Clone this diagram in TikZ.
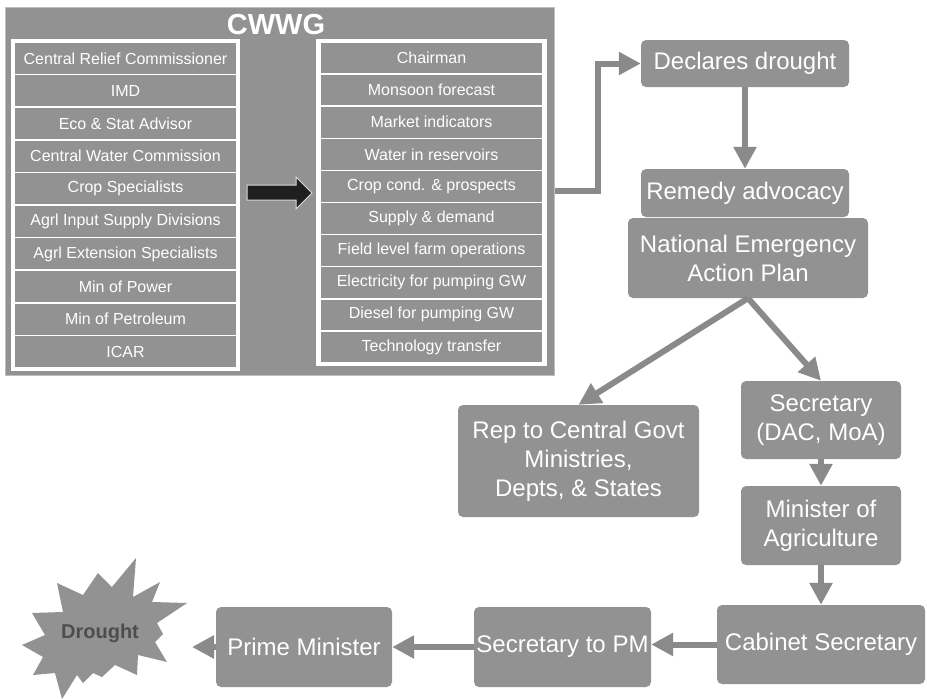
\documentclass[tikz,border=0pt]{standalone}
\usepackage{fontspec}
\setmainfont{Liberation Sans}
\usetikzlibrary{arrows.meta}
\definecolor{boxgray}{RGB}{146,146,146}
\definecolor{arrgray}{RGB}{138,138,138}
\definecolor{edgegray}{RGB}{190,190,190}
\definecolor{dtext}{RGB}{77,77,77}
\tikzset{
  flowbox/.style={rectangle, rounded corners=5pt, fill=boxgray, text=white, inner sep=0pt, align=center, font=\fontsize{24}{29}\selectfont},
  cell/.style={rectangle, fill=boxgray, draw=white, line width=1.5pt, text=white, inner sep=0pt, font=\fontsize{16}{19}\selectfont},
  conn/.style={draw=arrgray, line width=6pt, -{Triangle[length=22pt,width=22pt]}},
}
\begin{document}
\begin{tikzpicture}[x=1pt,y=-1pt]
\useasboundingbox (0,0) rectangle (927,699);
% CWWG panel
\node[rectangle, fill=boxgray, draw=edgegray, line width=1pt, minimum width=549pt, minimum height=368pt, inner sep=0pt] (cwwg) at (279.5,191) {};
\node[anchor=base, text=white, font=\fontsize{29}{32}\selectfont\bfseries, inner sep=0pt] (title) at (276,34) {CWWG};
% left column
\fill[white] (11,39) rectangle (240,371);
\foreach \t [count=\i] in {Central Relief Commissioner, IMD, Eco \& Stat Advisor, Central Water Commission, Crop Specialists, Agrl Input Supply Divisions, Agrl Extension Specialists, Min of Power, Min of Petroleum, ICAR}
  \node[cell, minimum width=222pt, minimum height=32.6pt] (l\i) at (125.5, 42+32.6*\i-16.3) {\t};
% right column
\fill[white] (316,39) rectangle (547,366);
\foreach \t [count=\i] in {Chairman, Monsoon forecast, Market indicators, Water in reservoirs, Crop cond. \& prospects, Supply \& demand, Field level farm operations, Electricity for pumping GW, Diesel for pumping GW, Technology transfer}
  \node[cell, minimum width=223pt, minimum height=32.1pt] (r\i) at (431.5, 42+32.1*\i-16.05) {\t};
% black block arrow
\filldraw[fill=black!88, draw=white!85!black, line width=1pt] (247,185) -- (296,185) -- (296,177) -- (312,193) -- (296,209) -- (296,200) -- (247,200) -- cycle;
% flow boxes
\node[flowbox, minimum width=208pt, minimum height=47pt] (declares) at (745,63.5) {Declares drought};
\node[flowbox, minimum width=208pt, minimum height=48pt] (remedy) at (745,193) {Remedy advocacy};
\node[flowbox, minimum width=240pt, minimum height=80pt] (neap) at (748,258) {National Emergency\\Action Plan};
\node[flowbox, minimum width=241pt, minimum height=112pt] (rep) at (578.5,461) {Rep to Central Govt\\Ministries,\\Depts, \& States};
\node[flowbox, minimum width=160pt, minimum height=78pt] (sec) at (821,420) {Secretary\\(DAC, MoA)};
\node[flowbox, minimum width=160pt, minimum height=79pt] (min) at (821,525.5) {Minister of\\Agriculture};
\node[flowbox, minimum width=208pt, minimum height=79pt] (cab) at (821,644.5) {Cabinet Secretary};
\node[flowbox, minimum width=177pt, minimum height=80pt] (secpm) at (562.5,647) {Secretary to PM};
\node[flowbox, minimum width=176pt, minimum height=80pt] (pm) at (304,647) {Prime Minister};
% drought star
\fill[boxgray] (136,558) -- (133,597) -- (160,582) -- (152,602) -- (187,603) -- (157,623) -- (163,634) -- (155,642) -- (167,662) -- (138,655) -- (137,675) -- (115,665) -- (102,677) -- (93,673) -- (83,683) -- (77,675) -- (62,699) -- (55,673) -- (33,675) -- (43,657) -- (22,645) -- (45,635) -- (32,613) -- (63,612) -- (57,583) -- (83,595) -- (98,573) -- (112,587) -- cycle;
\node[text=dtext, font=\fontsize{20}{24}\selectfont\bfseries, inner sep=0pt] (drought) at (100,633) {Drought};
\coordinate (dtip) at (192,647);
% connectors
\draw[conn] (cwwg.east) -- ++(43,0) |- (declares.west);
\draw[conn] (declares.south) -- (remedy.north);
\draw[conn] (neap.south) -- (rep.north);
\draw[conn] (neap.south) -- (sec.north);
\draw[conn] (sec.south) -- (min.north);
\draw[conn] (min.south) -- (cab.north);
\draw[conn] (cab.west) -- (cab.west -| secpm.east);
\draw[conn] (secpm.west) -- (secpm.west -| pm.east);
\draw[conn] (pm.west) -- (dtip);
\end{tikzpicture}
\end{document}
